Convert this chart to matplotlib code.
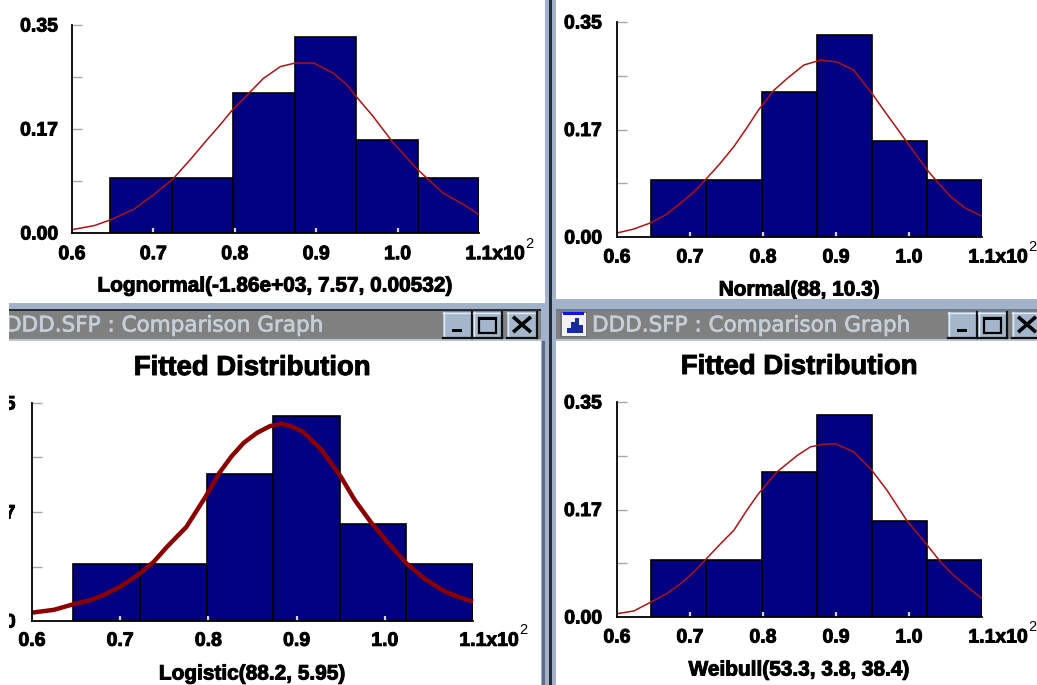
import matplotlib
matplotlib.use("Agg")
import matplotlib.pyplot as plt
from matplotlib.patches import Rectangle
from matplotlib.lines import Line2D
import matplotlib.patheffects as pe

# ---------------- data ----------------
bin_edges = [64.7, 72.25, 79.8, 87.35, 94.9, 102.45, 110.0]
bar_heights = [0.092, 0.092, 0.236, 0.329, 0.156, 0.092]

x_ticks = [60, 70, 80, 90, 100, 110]
x_tick_labels = ["0.6", "0.7", "0.8", "0.9", "1.0", "1.1"]
y_ticks = [0.0, 0.0875, 0.175, 0.2625, 0.35]
y_tick_labels = ["0.00", "", "0.17", "", "0.35"]

labels = ["Lognormal(-1.86e+03, 7.57, 0.00532)", "Normal(88, 10.3)",
          "Logistic(88.2, 5.95)", "Weibull(53.3, 3.8, 38.4)"]

lognormal_x = [60, 62.7, 64.7, 67.6, 70.0, 72.4, 74.5, 76.6, 78.2, 79.7, 81.5, 83.5, 85.6,
               87.4, 89.7, 92.1, 93.8, 94.9, 97.0, 99.5, 102.3, 104.0, 105.6, 108.1, 110]
lognormal_y = [0.0056, 0.0123, 0.022, 0.040, 0.064, 0.091, 0.123, 0.157, 0.182, 0.207, 0.232,
               0.260, 0.280, 0.286, 0.286, 0.269, 0.249, 0.230, 0.196, 0.151, 0.109, 0.087,
               0.067, 0.048, 0.031]

normal_x = [60, 62.3, 64.6, 66.8, 68.7, 70.5, 72.1, 74.0, 76.0, 77.8, 79.4, 81.5, 83.3, 85.6,
            87.9, 90.1, 92.4, 94.9, 97.0, 99.5, 102.5, 104.0, 105.7, 107.7, 110]
normal_y = [0.0065, 0.013, 0.023, 0.037, 0.055, 0.073, 0.093, 0.118, 0.147, 0.178, 0.207,
            0.239, 0.258, 0.280, 0.288, 0.285, 0.272, 0.234, 0.199, 0.158, 0.109, 0.088,
            0.066, 0.047, 0.034]

logistic_x = [60, 62.5, 64.7, 66.5, 68.0, 70.0, 72.2, 73.8, 75.3, 77.5, 79.7, 81.2, 82.6, 84.0,
              85.5, 87.0, 88.3, 89.5, 90.7, 92.8, 95.0, 96.6, 98.4, 100.4, 102.5, 104.5,
              106.6, 108.3, 110]
logistic_y = [0.0134, 0.018, 0.027, 0.033, 0.041, 0.055, 0.076, 0.095, 0.119, 0.151, 0.200,
              0.237, 0.264, 0.286, 0.302, 0.313, 0.317, 0.312, 0.304, 0.275, 0.232, 0.194,
              0.159, 0.125, 0.092, 0.068, 0.049, 0.039, 0.031]

weibull_x = [60, 62.3, 64.6, 66.8, 68.7, 70.5, 72.1, 74.0, 76.0, 77.8, 79.4, 81.9, 84.7, 86.5,
             88.2, 89.9, 92.4, 94.9, 97.0, 99.7, 102.5, 104.3, 106.1, 108.0, 110]
weibull_y = [0.0054, 0.0098, 0.024, 0.038, 0.054, 0.073, 0.093, 0.117, 0.141, 0.174, 0.201,
             0.236, 0.263, 0.277, 0.281, 0.282, 0.269, 0.239, 0.206, 0.157, 0.117, 0.090,
             0.068, 0.049, 0.030]

# ---------------- layout ----------------
W, H = 1037, 685
fig = plt.figure(figsize=(W / 100, H / 100), dpi=100)
fig.patch.set_facecolor("white")

LAB_FONT = ["Liberation Sans", "DejaVu Sans"]
HEAVY = [pe.withStroke(linewidth=0.7, foreground="black")]


def box(x0, y0, x1, y1):
    return [x0 / W, 1 - y1 / H, (x1 - x0) / W, (y1 - y0) / H]


panels = [
    dict(px=(72, 25, 479, 233), label=labels[0], cx=lognormal_x, cy=lognormal_y,
         lw=1.1, lc="#aa1414", title=False, ypad=10.0, xpad=9.5),
    dict(px=(617, 22, 982, 237), label=labels[1], cx=normal_x, cy=normal_y,
         lw=1.1, lc="#aa1414", title=False, ypad=10.8, xpad=9.0),
    dict(px=(32, 403, 473, 621), label=labels[2], cx=logistic_x, cy=logistic_y,
         lw=3.2, lc="#8a0000", title=True, ypad=11.8, xpad=8.5),
    dict(px=(617, 402, 982, 617), label=labels[3], cx=weibull_x, cy=weibull_y,
         lw=1.1, lc="#aa1414", title=True, ypad=10.8, xpad=9.0),
]

for p in panels:
    x0, y0, x1, y1 = p["px"]
    ax = fig.add_axes(box(x0, y0, x1, y1))
    ax.set_facecolor("none")
    widths = [bin_edges[i + 1] - bin_edges[i] for i in range(len(bar_heights))]
    ax.bar(bin_edges[:-1], bar_heights, width=widths, align="edge",
           color="#000080", edgecolor="black", linewidth=1.2, zorder=1)
    ax.plot(p["cx"], p["cy"], color=p["lc"], lw=p["lw"], zorder=3,
            solid_capstyle="butt", solid_joinstyle="round", clip_on=False)
    ax.set_xlim(60, 110)
    ax.set_ylim(0, 0.35)
    for s in ("top", "right"):
        ax.spines[s].set_visible(False)
    for s in ("left", "bottom"):
        ax.spines[s].set_linewidth(1.3)
        ax.spines[s].set_color("black")
        ax.spines[s].set_zorder(4)
    ax.set_axisbelow(False)
    ax.set_xticks(x_ticks)
    ax.set_xticklabels(x_tick_labels, fontfamily=LAB_FONT, fontweight="bold", fontsize=14)
    ax.set_yticks(y_ticks)
    ax.set_yticklabels(y_tick_labels, fontfamily=LAB_FONT, fontweight="bold", fontsize=14)
    for t in ax.get_xticklabels() + ax.get_yticklabels():
        t.set_path_effects(HEAVY)
    ax.tick_params(axis="x", direction="in", length=3.5, width=1.6, color="#d4d4e8",
                   pad=p["xpad"])
    ax.tick_params(axis="y", direction="in", length=7.5, width=1.0, color="#a8a8a8",
                   pad=p["ypad"])
    ticks = ax.xaxis.get_major_ticks()
    ticks[0].tick1line.set_visible(False)
    ticks[-1].tick1line.set_visible(False)
    ax.yaxis.get_major_ticks()[0].tick1line.set_visible(False)

    hpx = y1 - y0
    ax.text(0.5, -43.5 / hpx, p["label"], transform=ax.transAxes, ha="center", va="top",
            fontfamily=LAB_FONT, fontweight="bold", fontsize=15, path_effects=HEAVY)
    # "x10^2" exponent note after the last tick label
    ax.annotate("x10", xy=(110, 0), xycoords="data", xytext=(9.6, -p["xpad"]),
                textcoords="offset points", ha="left", va="top",
                fontfamily=LAB_FONT, fontweight="bold", fontsize=14, annotation_clip=False,
                path_effects=HEAVY)
    ax.annotate("2", xy=(110, 0), xycoords="data", xytext=(33.6, -p["xpad"] - 3.2),
                textcoords="offset points", ha="left", va="bottom",
                fontfamily=LAB_FONT, fontsize=10.5, annotation_clip=False)
    if p["title"]:
        ax.text(0.5, 1 + 35.0 / hpx, "Fitted Distribution", transform=ax.transAxes,
                ha="center", va="center", fontfamily=LAB_FONT, fontweight="bold",
                fontsize=19.8, path_effects=HEAVY)

# ---------------- window chrome overlay ----------------
ov = fig.add_axes([0, 0, 1, 1], zorder=5)
ov.set_xlim(0, W)
ov.set_ylim(H, 0)
ov.axis("off")
ov.patch.set_alpha(0)

FRAME = "#a2b2c8"
DARK = "#242c3a"
TBAR = "#808080"
BTN = "#a4b6cc"


def rect(x0, y0, x1, y1, color, z=1, **kw):
    ov.add_patch(Rectangle((x0, y0), x1 - x0, y1 - y0, facecolor=color,
                           edgecolor="none", zorder=z, **kw))


# left mask (window starts at x=8 on the lower left)
rect(0, 300, 8.5, H, "white", z=6)
# horizontal frame under top windows
rect(8.5, 303, 546, 308.5, FRAME)
rect(8.5, 308.5, 546, 310.5, DARK)
rect(546, 299, W, 309, FRAME)
rect(546, 309, W, 310.5, "#6c7c94")
# title bars
rect(8.5, 310.5, 541, 338.5, TBAR)
rect(8.5, 338.5, 541, 341, "#b8c4d4")
rect(556, 310.5, W, 338.5, TBAR)
rect(556, 338.5, W, 341, "#b8c4d4")
# vertical divider
rect(541, 303, 556, H, FRAME, z=2)
rect(545, 0, 556, 303, FRAME, z=2)
rect(548.5, 0, 551.5, H, DARK, z=3)
rect(542, 341, 545, H, "#5c6c84", z=3)

# title text
TT = [pe.withStroke(linewidth=0.5, foreground="#c6ced8")]
ov.text(5, 331.5, "DDD.SFP : Comparison Graph", color="#c6ced8", fontsize=15.5,
        fontfamily=["DejaVu Sans"], ha="left", va="baseline", zorder=4, path_effects=TT)
ov.text(592, 331.5, "DDD.SFP : Comparison Graph", color="#c6ced8", fontsize=15.5,
        fontfamily=["DejaVu Sans"], ha="left", va="baseline", zorder=4, path_effects=TT)


def button(x0, x1, glyph, y0=312, y1=337.5):
    rect(x0, y0, x1, y1, BTN, z=4)
    ov.add_line(Line2D([x0, x1], [y0 + 0.5, y0 + 0.5], color="#e4eaf2", lw=1.0, zorder=5))
    ov.add_line(Line2D([x0 + 0.5, x0 + 0.5], [y0, y1], color="#e4eaf2", lw=1.0, zorder=5))
    ov.add_line(Line2D([x0, x1], [y1, y1], color="#101010", lw=1.6, zorder=5))
    ov.add_line(Line2D([x1, x1], [y0, y1], color="#101010", lw=1.6, zorder=5))
    cx = (x0 + x1) / 2
    if glyph == "min":
        rect(cx - 5.5, 328.5, cx + 4.5, 332, "black", z=6)
    elif glyph == "max":
        ov.add_patch(Rectangle((cx - 8.5, 317.5), 17, 15, facecolor="none",
                               edgecolor="black", lw=1.6, zorder=6))
        rect(cx - 8.5, 317, cx + 8.5, 320, "black", z=6)
    else:
        ov.add_line(Line2D([cx - 7.5, cx + 7.5], [318, 331], color="black", lw=2.6, zorder=6))
        ov.add_line(Line2D([cx - 7.5, cx + 7.5], [331, 318], color="black", lw=2.6, zorder=6))


button(443, 472, "min")
button(473, 502, "max")
button(507, 537, "close")
button(948, 977, "min")
button(978, 1007, "max")
button(1012, 1042, "close")

# icon of the lower-right window
rect(560, 311.5, 587, 337, "#707070", z=4)
rect(562, 313, 586, 336, "#f2f2f2", z=5)
rect(563, 311.5, 584, 315, "#1010e8", z=6)
for bx, bh in [(567, 5), (571, 11), (575, 15), (579, 8)]:
    rect(bx, 333 - bh, bx + 4, 333, "#1a2c9c", z=6)

fig.savefig("out.png", dpi=100, facecolor="white")
